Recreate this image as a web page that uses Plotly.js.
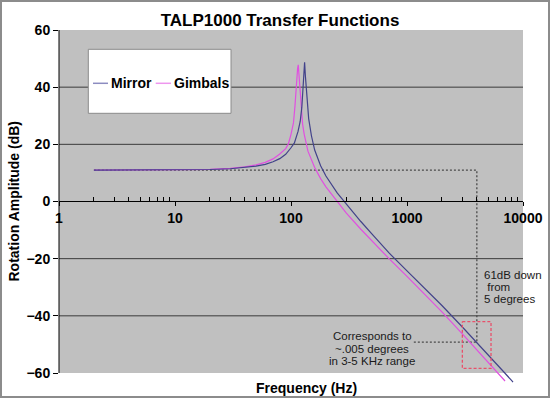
<!DOCTYPE html>
<html><head><meta charset="utf-8">
<script src="https://cdn.plot.ly/plotly-3.0.1.min.js"></script>
<style>html,body{margin:0;padding:0;background:#fff;}#chart{width:550px;height:398px;}</style>
</head><body><div id="chart"></div>
<script>
// ---- data ----
const freqMirror = [2, 5, 10, 20, 30, 40, 50, 60, 70, 80, 90, 100, 107, 115, 120, 124, 127, 129, 131, 133, 135, 138, 142, 150, 160, 180, 200, 250, 300, 400, 500, 700, 1000, 1500, 2000, 3000, 4000, 5000, 6000, 7000, 8000, 8200];
const dbMirror   = [11.0, 11.0, 11.05, 11.2, 11.45, 11.85, 12.35, 13.0, 13.9, 15.0, 16.5, 18.8, 20.5, 24.5, 28.0, 33.0, 39.0, 44.0, 48.7, 44.0, 40.0, 34.0, 29.0, 23.0, 18.0, 12.5, 8.9, 3.0, -1.0, -7.0, -11.4, -18.0, -24.3, -31.3, -36.4, -43.9, -49.3, -53.6, -57.1, -60.1, -62.7, -63.2];
const freqGimbals = [2, 5, 10, 20, 30, 40, 50, 60, 70, 80, 90, 95, 100, 105, 108, 110, 112, 114, 115.5, 117, 119, 122, 126, 130, 135, 140, 160, 180, 200, 250, 300, 400, 500, 700, 1000, 1500, 2000, 3000, 4000, 5000, 6000, 7000];
const dbGimbals   = [11.0, 11.02, 11.06, 11.26, 11.6, 12.1, 12.8, 13.7, 14.9, 16.6, 18.5, 20.2, 23.5, 27.5, 33.0, 38.5, 43.0, 46.5, 47.8, 45.0, 40.0, 33.0, 27.0, 23.5, 20.0, 17.6, 11.9, 8.0, 5.1, -0.2, -4.1, -9.7, -13.9, -20.0, -26.2, -33.3, -38.6, -46.3, -51.8, -56.2, -59.8, -62.8];
const seriesNames = ['Mirror', 'Gimbals'];
const xTickVals = [1, 10, 100, 1000, 10000];
const xTickText = ['1', '10', '100', '1000', '10000'];
const yTickVals = [-60, -40, -20, 0, 20, 40, 60];
const yGridVals = [-40, -20, 20, 40];
const refFreq = [2, 4000, 4000, 1130];
const refDb   = [11, 11, -49.2, -49.2];
const boxFreq = [3000, 5300, 5300, 3000, 3000];
const boxDb   = [-42, -42, -58.4, -58.4, -42];
const noteRight = ['61dB down', ' from', '5 degrees'];
const noteLeft  = ['Corresponds to', '~.005 degrees', 'in 3-5 KHz range'];
const titleText = 'TALP1000 Transfer Functions';
const xTitle = 'Frequency (Hz)';
const yTitle = 'Rotation Amplitude (dB)';

// ---- layout helpers ----
const W = 550, H = 398, L = 59, R = 27, T = 30, B = 14;
const yRange = [-63.85, 60];
const plotW = W - L - R, plotH = H - T - B;
const px = x => (x - L) / plotW;
const py = y => (H - B - y) / plotH;
const FONT = 'Liberation Sans, Arial, Helvetica, sans-serif';
const colMirror = '#42428a', colGimbals = '#e050e0';

const minorVals = [];
[1, 10, 100, 1000].forEach(d => { for (let k = 2; k <= 9; k++) minorVals.push(d * k); });

const traces = [
  {x: refFreq, y: refDb, mode: 'lines', line: {color: '#4a4a4a', width: 1.3, dash: '2px,2px'}, hoverinfo: 'skip'},
  {x: freqGimbals, y: dbGimbals, name: seriesNames[1], mode: 'lines', line: {color: colGimbals, width: 1.2}},
  {x: freqMirror, y: dbMirror, name: seriesNames[0], mode: 'lines', line: {color: colMirror, width: 1.2}},
  {x: boxFreq, y: boxDb, mode: 'lines', line: {color: '#e8506a', width: 1.3, dash: '3px,2px'}, hoverinfo: 'skip'}
];

const shapes = [
  {type: 'rect', xref: 'paper', yref: 'y', x0: 0, x1: 1, y0: -60, y1: 60, fillcolor: '#c0c0c0', line: {width: 0}, layer: 'below'},
  {type: 'rect', xref: 'paper', yref: 'paper', x0: px(1), x1: px(549), y0: py(397), y1: py(1), line: {color: '#8c8c8c', width: 2}, layer: 'below'}
];
yGridVals.forEach(g => shapes.push({type: 'line', xref: 'paper', yref: 'y', x0: 0, x1: 1, y0: g, y1: g, line: {color: '#3a3a3a', width: 1}, layer: 'below'}));
shapes.push({type: 'line', xref: 'paper', yref: 'y', x0: 0, x1: 0, y0: -60, y1: 60, line: {color: '#000', width: 1}, layer: 'above'});
// legend box
shapes.push({type: 'rect', xref: 'paper', yref: 'paper', x0: px(88.3), x1: px(231), y0: py(113.3), y1: py(49.3), fillcolor: '#fff', line: {color: '#8a8a8a', width: 1}, layer: 'above'});
shapes.push({type: 'line', xref: 'paper', yref: 'paper', x0: px(93), x1: px(108), y0: py(83.3), y1: py(83.3), line: {color: '#8c8cc0', width: 1.5}, layer: 'above'});
shapes.push({type: 'line', xref: 'paper', yref: 'paper', x0: px(155.7), x1: px(171), y0: py(83.3), y1: py(83.3), line: {color: '#ee96ee', width: 1.5}, layer: 'above'});

const bold14 = {family: FONT, size: 14, color: '#000', weight: 'bold'};
const noteFont = {family: FONT, size: 11.5, color: '#1a1a1a'};
const annotations = [
  {text: seriesNames[0], xref: 'paper', yref: 'paper', x: px(109), y: py(83.3), xanchor: 'left', yanchor: 'middle', showarrow: false, font: bold14},
  {text: seriesNames[1], xref: 'paper', yref: 'paper', x: px(171.7), y: py(83.3), xanchor: 'left', yanchor: 'middle', showarrow: false, font: bold14},
  {text: yTitle, xref: 'paper', yref: 'paper', x: px(13), y: py(201.5), textangle: -90, xanchor: 'center', yanchor: 'middle', showarrow: false, font: bold14},
  {text: xTitle, xref: 'paper', yref: 'paper', x: px(306), y: py(388), xanchor: 'center', yanchor: 'middle', showarrow: false, font: bold14}
];
const rightY = [275, 287, 298.5];
noteRight.forEach((t, i) => annotations.push({text: t, xref: 'paper', yref: 'paper', x: px(482), y: py(rightY[i]), xanchor: 'left', yanchor: 'middle', showarrow: false, font: noteFont}));
const leftY = [336, 348.5, 360.5];
noteLeft.forEach((t, i) => annotations.push({text: t, xref: 'paper', yref: 'paper', x: px(372), y: py(leftY[i]), xanchor: 'center', yanchor: 'middle', showarrow: false, font: noteFont}));

const layout = {
  width: W, height: H,
  margin: {l: L, r: R, t: T, b: B, pad: 0},
  paper_bgcolor: '#fff', plot_bgcolor: 'rgba(0,0,0,0)',
  showlegend: false,
  title: {text: titleText, font: {family: FONT, size: 17, color: '#000', weight: 'bold'}, xref: 'container', x: 280 / W, xanchor: 'center', yref: 'container', y: 1 - 20.5 / H, yanchor: 'middle'},
  xaxis: {
    type: 'log', range: [0, 4], anchor: 'free', position: (0 - yRange[0]) / (yRange[1] - yRange[0]),
    tickmode: 'array', tickvals: xTickVals, ticktext: xTickText,
    ticks: 'outside', ticklen: 4, tickcolor: '#000', tickwidth: 1,
    showline: true, linecolor: '#000', linewidth: 1, showgrid: false, zeroline: false,
    tickfont: bold14,
    minor: {tickmode: 'array', tickvals: minorVals, ticks: 'inside', ticklen: 4, tickcolor: '#000', tickwidth: 1, showgrid: false}
  },
  yaxis: {
    range: yRange, tickmode: 'array', tickvals: yTickVals,
    ticks: 'outside', ticklen: 5, tickcolor: '#000', tickwidth: 1,
    showline: false, showgrid: false, zeroline: false,
    tickfont: bold14
  },
  shapes: shapes,
  annotations: annotations
};

Plotly.newPlot('chart', traces, layout, {staticPlot: true, displayModeBar: false});
</script>
</body></html>
